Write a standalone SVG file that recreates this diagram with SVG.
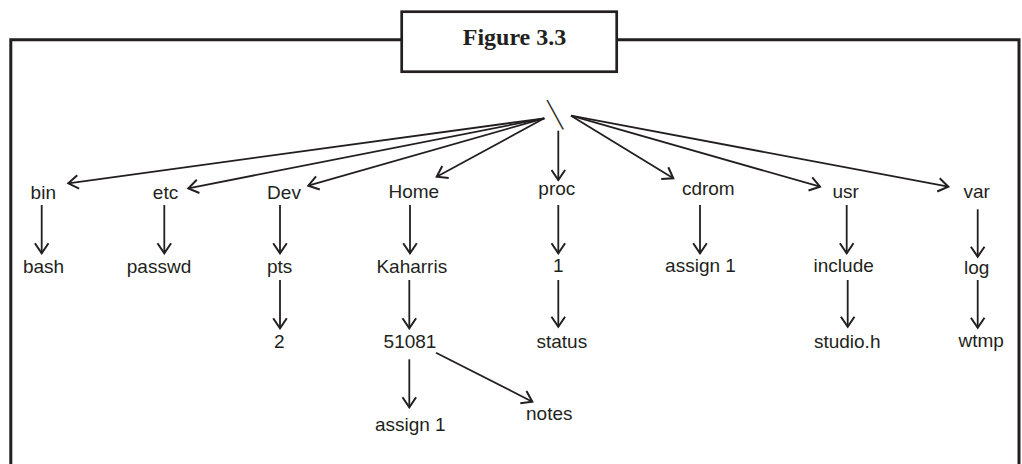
<svg xmlns="http://www.w3.org/2000/svg" width="1022" height="464" viewBox="0 0 1022 464">
  <style>
    .frame { fill: none; stroke: #231f20; stroke-width: 3; }
    .title { font-family: "Liberation Serif", "Times New Roman", serif; font-weight: bold; font-size: 24px; fill: #231f20; text-anchor: middle; }
    .lbl { font-family: "Liberation Sans", Arial, sans-serif; font-size: 19px; fill: #231f20; text-anchor: middle; }
    .root { font-family: "Liberation Sans", Arial, sans-serif; font-size: 20px; fill: #231f20; text-anchor: middle; }
    .edge { fill: none; stroke: #231f20; stroke-width: 1.8; marker-end: url(#vhead); }
  </style>
  <defs>
    <marker id="vhead" markerUnits="userSpaceOnUse" viewBox="-12 -9 14 18" refX="0" refY="0" markerWidth="14" markerHeight="18" orient="auto">
      <path d="M -10 -6.8 L 0 0 L -10 6.8" fill="none" stroke="#231f20" stroke-width="2"/>
    </marker>
  </defs>
  <rect width="1022" height="464" fill="#ffffff"/>

  <!-- outer frame, open at the bottom -->
  <path class="frame" d="M 10.8 470 L 10.8 39.8 L 1019 39.8 L 1019 470"/>

  <!-- caption box -->
  <g id="caption">
    <rect x="401.7" y="11.7" width="215" height="60" fill="#ffffff" stroke="#231f20" stroke-width="2.7"/>
    <text class="title" x="514.5" y="45">Figure 3.3</text>
  </g>

  <!-- connectors -->
  <g id="connectors">
    <line class="edge" x1="544.3" y1="118.3" x2="68.3" y2="183.3"/>
    <line class="edge" x1="544.3" y1="118.3" x2="188.3" y2="188.3"/>
    <line class="edge" x1="544.3" y1="118.3" x2="308.3" y2="185.7"/>
    <line class="edge" x1="544.3" y1="118.3" x2="436.7" y2="176.7"/>
    <line class="edge" x1="558.3" y1="130.7" x2="558.3" y2="180"/>
    <line class="edge" x1="571" y1="115.7" x2="673.3" y2="178.3"/>
    <line class="edge" x1="571" y1="115.7" x2="820" y2="186.7"/>
    <line class="edge" x1="571" y1="115.7" x2="948.3" y2="186.7"/>

    <line class="edge" x1="41.7" y1="205" x2="41.7" y2="253.3"/>
    <line class="edge" x1="164.3" y1="205" x2="164.3" y2="253.3"/>
    <line class="edge" x1="280" y1="205" x2="280" y2="253.3"/>
    <line class="edge" x1="410" y1="205" x2="410" y2="253.3"/>
    <line class="edge" x1="558.3" y1="205" x2="558.3" y2="253.3"/>
    <line class="edge" x1="700" y1="205" x2="700" y2="253.3"/>
    <line class="edge" x1="846.7" y1="205" x2="846.7" y2="253.3"/>
    <line class="edge" x1="977.7" y1="209.3" x2="977.7" y2="256.7"/>

    <line class="edge" x1="280" y1="280" x2="280" y2="328.3"/>
    <line class="edge" x1="409.3" y1="280" x2="409.3" y2="328.3"/>
    <line class="edge" x1="558.3" y1="280" x2="558.3" y2="326.7"/>
    <line class="edge" x1="847.7" y1="280" x2="847.7" y2="326.7"/>
    <line class="edge" x1="977.7" y1="280" x2="977.7" y2="327.7"/>

    <line class="edge" x1="409.3" y1="359.3" x2="409.3" y2="407.3"/>
    <line class="edge" x1="436" y1="352.7" x2="532.3" y2="401.7"/>
  </g>

  <!-- root directory: a small glyph stretched tall and slanted -->
  <g id="n-root">
    <text class="root" x="0" y="0" transform="matrix(1 0 0.827 2 561 128.9)">\</text>
  </g>

  <!-- first level -->
  <g id="n-bin"><text class="lbl" x="43.3" y="199">bin</text></g>
  <g id="n-etc"><text class="lbl" x="165.5" y="199">etc</text></g>
  <g id="n-dev"><text class="lbl" x="284" y="199">Dev</text></g>
  <g id="n-home"><text class="lbl" x="413.8" y="198.3">Home</text></g>
  <g id="n-proc"><text class="lbl" x="556.8" y="195">proc</text></g>
  <g id="n-cdrom"><text class="lbl" x="708.3" y="195">cdrom</text></g>
  <g id="n-usr"><text class="lbl" x="845.7" y="198.3">usr</text></g>
  <g id="n-var"><text class="lbl" x="976.7" y="198.3">var</text></g>

  <!-- second level -->
  <g id="n-bash"><text class="lbl" x="43.5" y="273.3">bash</text></g>
  <g id="n-passwd"><text class="lbl" x="159" y="273.3">passwd</text></g>
  <g id="n-pts"><text class="lbl" x="279.7" y="273.3">pts</text></g>
  <g id="n-kaharris"><text class="lbl" x="411.8" y="273.3">Kaharris</text></g>
  <g id="n-pid1"><text class="lbl" x="558.3" y="271.7">1</text></g>
  <g id="n-cd-assign1"><text class="lbl" x="700.5" y="271.7">assign 1</text></g>
  <g id="n-include"><text class="lbl" x="843.7" y="271.7">include</text></g>
  <g id="n-log"><text class="lbl" x="976.7" y="274.3">log</text></g>

  <!-- third level -->
  <g id="n-pts2"><text class="lbl" x="279.3" y="347.7">2</text></g>
  <g id="n-51081"><text class="lbl" x="410" y="347.7">51081</text></g>
  <g id="n-status"><text class="lbl" x="561.8" y="347.7">status</text></g>
  <g id="n-studio"><text class="lbl" x="847.2" y="347.7">studio.h</text></g>
  <g id="n-wtmp"><text class="lbl" x="981.2" y="346.7">wtmp</text></g>

  <!-- fourth level -->
  <g id="n-home-assign1"><text class="lbl" x="410.3" y="430.7">assign 1</text></g>
  <g id="n-notes"><text class="lbl" x="549.3" y="420">notes</text></g>
</svg>
